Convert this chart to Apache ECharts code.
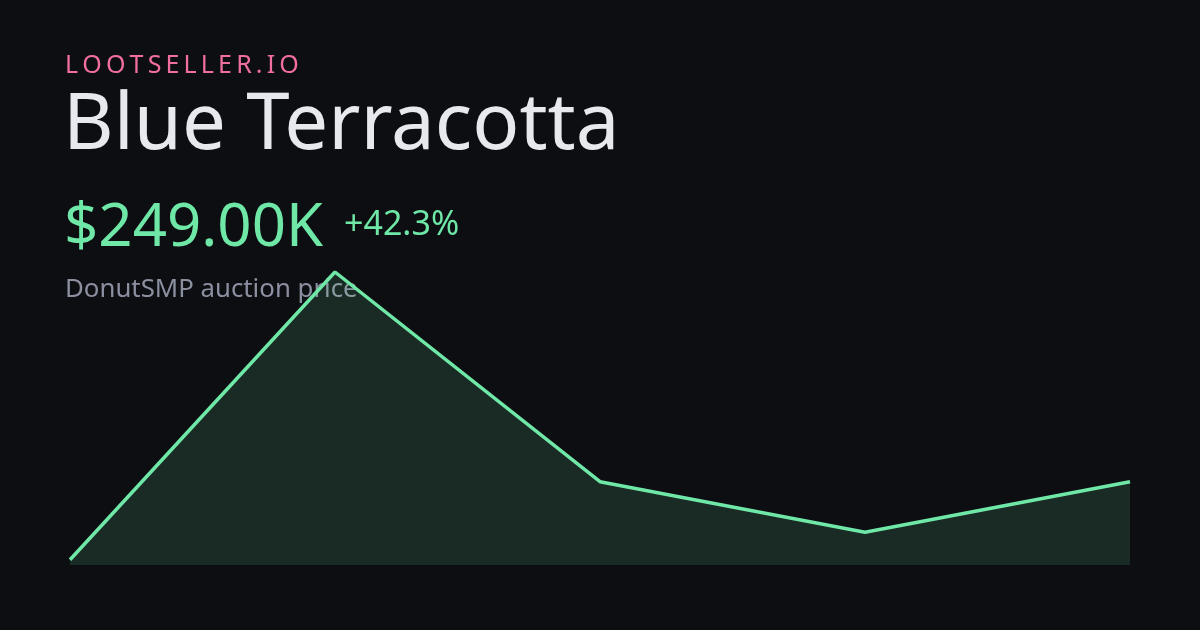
<!DOCTYPE html>
<html><head><meta charset="utf-8">
<script src="https://cdn.jsdelivr.net/npm/echarts@6/dist/echarts.min.js"></script>
<style>html,body{margin:0;padding:0;background:#0d0e12;}#c{width:1200px;height:630px;}</style>
</head><body><div id="c"></div>
<script>
const categories = ['P1','P2','P3','P4','P5'];
const prices = [175, 448, 249, 201, 249];
const brand = 'LOOTSELLER.IO';
const itemName = 'Blue Terracotta';
const priceLabel = '$249.00K';
const changeLabel = '+42.3%';
const subtitle = 'DonutSMP auction price';

const green = '#6ee7a7';
const chart = echarts.init(document.getElementById('c'), null, {renderer:'canvas'});
const font = '"Noto Sans", "Open Sans", sans-serif';
const spaced = brand.split('').join('\u2009');
chart.setOption({
  backgroundColor: '#0d0e12',
  animation: false,
  grid: {left: 70, right: 70, top: 272, bottom: 65},
  xAxis: {type:'category', data: categories, boundaryGap:false, show:false},
  yAxis: {type:'value', min: 170, max: 448, show:false},
  graphic: [
    {type:'text', left: 65, top: 53, z: 0, style:{text: spaced, fill:'#f06fa0', font:'400 25px '+font}},
    {type:'text', left: 63, top: 88, z: 0, style:{text: itemName, fill:'#e8e9ee', font:'400 78px '+font}},
    {type:'text', left: 64, top: 199, z: 0, style:{text: priceLabel, fill:green, font:'400 60px '+font}},
    {type:'text', left: 344, top: 208, z: 0, style:{text: changeLabel, fill:green, font:'400 34px '+font}},
    {type:'text', left: 65, top: 277, z: 0, style:{text: subtitle, fill:'#8b8fa0', font:'400 25.8px '+font}}
  ],
  series: [{
    type:'line', data: prices, symbol:'none', z: 5,
    lineStyle:{color: green, width: 3.5},
    areaStyle:{color: 'rgba(110,231,167,0.19)', origin:'start'}
  }]
});
</script></body></html>
